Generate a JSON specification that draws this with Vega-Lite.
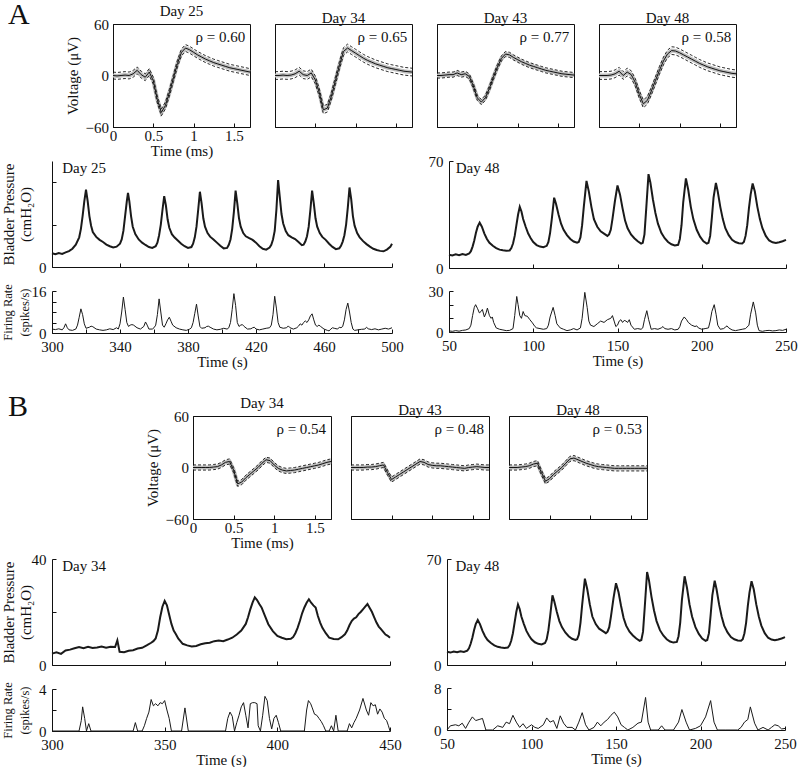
{
"$schema":"https://vega.github.io/schema/vega-lite/v6.json",
"padding":{"left":1,"top":0,"right":2,"bottom":0},
"config":{
 "font":"Liberation Serif",
 "view":{"stroke":null},
 "axis":{"grid":false,"domainColor":"#111","tickColor":"#111","labelColor":"#111","titleColor":"#111","labelFontSize":15,"titleFontSize":15,"titleFontWeight":"normal","tickSize":-4,"labelPadding":4,"labelFlush":false,"labelOverlap":false},
 "axisY":{"labelPadding":10},
 "title":{"fontSize":15,"fontWeight":"normal","color":"#111","offset":-2},
 "text":{"color":"#111"}
},
"datasets":{
"wA25":[{"t":0,"v":0,"hi":4,"lo":-4},{"t":0.05,"v":-0.5,"hi":3.5,"lo":-4.5},{"t":0.1,"v":0,"hi":4,"lo":-4},{"t":0.15,"v":0.5,"hi":4.5,"lo":-3.5},{"t":0.2,"v":0,"hi":4,"lo":-4},{"t":0.25,"v":2,"hi":6,"lo":-2},{"t":0.3,"v":6,"hi":10,"lo":2},{"t":0.35,"v":1,"hi":5,"lo":-3},{"t":0.4,"v":-2,"hi":2,"lo":-6},{"t":0.45,"v":4,"hi":8,"lo":0},{"t":0.5,"v":-6,"hi":-2,"lo":-10},{"t":0.55,"v":-28,"hi":-24,"lo":-32},{"t":0.6,"v":-43,"hi":-39,"lo":-47},{"t":0.65,"v":-35,"hi":-31,"lo":-39},{"t":0.7,"v":-20,"hi":-16,"lo":-24},{"t":0.75,"v":-3,"hi":1,"lo":-7},{"t":0.8,"v":14,"hi":18,"lo":10},{"t":0.85,"v":27,"hi":31,"lo":23},{"t":0.9,"v":32,"hi":36,"lo":28},{"t":0.95,"v":30,"hi":34,"lo":26},{"t":1,"v":27,"hi":31,"lo":23},{"t":1.05,"v":24,"hi":28,"lo":20},{"t":1.1,"v":21.5,"hi":25.5,"lo":17.5},{"t":1.15,"v":19,"hi":23,"lo":15},{"t":1.2,"v":17,"hi":21,"lo":13},{"t":1.25,"v":15,"hi":19,"lo":11},{"t":1.3,"v":13.5,"hi":17.5,"lo":9.5},{"t":1.35,"v":12,"hi":16,"lo":8},{"t":1.4,"v":10.5,"hi":14.5,"lo":6.5},{"t":1.45,"v":9,"hi":13,"lo":5},{"t":1.5,"v":8,"hi":12,"lo":4},{"t":1.55,"v":7,"hi":11,"lo":3},{"t":1.6,"v":6,"hi":10,"lo":2},{"t":1.65,"v":5,"hi":9,"lo":1},{"t":1.7,"v":4,"hi":8,"lo":0}],
"wA34":[{"t":0,"v":0,"hi":4.5,"lo":-4.5},{"t":0.05,"v":0,"hi":4.5,"lo":-4.5},{"t":0.1,"v":0.5,"hi":5,"lo":-4},{"t":0.15,"v":0,"hi":4.5,"lo":-4.5},{"t":0.2,"v":0.5,"hi":5,"lo":-4},{"t":0.25,"v":2,"hi":6.5,"lo":-2.5},{"t":0.3,"v":5,"hi":9.5,"lo":0.5},{"t":0.35,"v":1,"hi":5.5,"lo":-3.5},{"t":0.4,"v":0,"hi":4.5,"lo":-4.5},{"t":0.45,"v":3,"hi":7.5,"lo":-1.5},{"t":0.5,"v":-5,"hi":-0.5,"lo":-9.5},{"t":0.55,"v":-20,"hi":-15.5,"lo":-24.5},{"t":0.6,"v":-40,"hi":-35.5,"lo":-44.5},{"t":0.65,"v":-38,"hi":-33.5,"lo":-42.5},{"t":0.7,"v":-24,"hi":-19.5,"lo":-28.5},{"t":0.75,"v":-6,"hi":-1.5,"lo":-10.5},{"t":0.8,"v":12,"hi":16.5,"lo":7.5},{"t":0.85,"v":28,"hi":32.5,"lo":23.5},{"t":0.9,"v":32,"hi":36.5,"lo":27.5},{"t":0.95,"v":29,"hi":33.5,"lo":24.5},{"t":1,"v":26,"hi":30.5,"lo":21.5},{"t":1.05,"v":23,"hi":27.5,"lo":18.5},{"t":1.1,"v":20,"hi":24.5,"lo":15.5},{"t":1.15,"v":17.5,"hi":22,"lo":13},{"t":1.2,"v":15.5,"hi":20,"lo":11},{"t":1.25,"v":13.5,"hi":18,"lo":9},{"t":1.3,"v":12,"hi":16.5,"lo":7.5},{"t":1.35,"v":10.5,"hi":15,"lo":6},{"t":1.4,"v":9,"hi":13.5,"lo":4.5},{"t":1.45,"v":8,"hi":12.5,"lo":3.5},{"t":1.5,"v":7,"hi":11.5,"lo":2.5},{"t":1.55,"v":6,"hi":10.5,"lo":1.5},{"t":1.6,"v":5,"hi":9.5,"lo":0.5},{"t":1.65,"v":4.5,"hi":9,"lo":0},{"t":1.7,"v":4,"hi":8.5,"lo":-0.5}],
"wA43":[{"t":0,"v":0,"hi":3,"lo":-3},{"t":0.05,"v":0,"hi":3,"lo":-3},{"t":0.1,"v":0.5,"hi":3.5,"lo":-2.5},{"t":0.15,"v":1,"hi":4,"lo":-2},{"t":0.2,"v":1,"hi":4,"lo":-2},{"t":0.25,"v":3,"hi":6,"lo":0},{"t":0.3,"v":1,"hi":4,"lo":-2},{"t":0.35,"v":2,"hi":5,"lo":-1},{"t":0.4,"v":-1,"hi":2,"lo":-4},{"t":0.45,"v":-12,"hi":-9,"lo":-15},{"t":0.5,"v":-26,"hi":-23,"lo":-29},{"t":0.55,"v":-31,"hi":-28,"lo":-34},{"t":0.6,"v":-26,"hi":-23,"lo":-29},{"t":0.65,"v":-15,"hi":-12,"lo":-18},{"t":0.7,"v":-2,"hi":1,"lo":-5},{"t":0.75,"v":10,"hi":13,"lo":7},{"t":0.8,"v":20,"hi":23,"lo":17},{"t":0.85,"v":25,"hi":28,"lo":22},{"t":0.9,"v":24,"hi":27,"lo":21},{"t":0.95,"v":21,"hi":24,"lo":18},{"t":1,"v":18.5,"hi":21.5,"lo":15.5},{"t":1.05,"v":16,"hi":19,"lo":13},{"t":1.1,"v":14,"hi":17,"lo":11},{"t":1.15,"v":12,"hi":15,"lo":9},{"t":1.2,"v":10.5,"hi":13.5,"lo":7.5},{"t":1.25,"v":9,"hi":12,"lo":6},{"t":1.3,"v":7.5,"hi":10.5,"lo":4.5},{"t":1.35,"v":6,"hi":9,"lo":3},{"t":1.4,"v":5,"hi":8,"lo":2},{"t":1.45,"v":4,"hi":7,"lo":1},{"t":1.5,"v":3,"hi":6,"lo":0},{"t":1.55,"v":2,"hi":5,"lo":-1},{"t":1.6,"v":1.5,"hi":4.5,"lo":-1.5},{"t":1.65,"v":1,"hi":4,"lo":-2},{"t":1.7,"v":0.5,"hi":3.5,"lo":-2.5}],
"wA48":[{"t":0,"v":0,"hi":4.5,"lo":-4.5},{"t":0.05,"v":0,"hi":4.5,"lo":-4.5},{"t":0.1,"v":0,"hi":4.5,"lo":-4.5},{"t":0.15,"v":0.5,"hi":5,"lo":-4},{"t":0.2,"v":2,"hi":6.5,"lo":-2.5},{"t":0.25,"v":5,"hi":9.5,"lo":0.5},{"t":0.3,"v":0,"hi":4.5,"lo":-4.5},{"t":0.35,"v":4,"hi":8.5,"lo":-0.5},{"t":0.4,"v":1,"hi":5.5,"lo":-3.5},{"t":0.45,"v":-8,"hi":-3.5,"lo":-12.5},{"t":0.5,"v":-22,"hi":-17.5,"lo":-26.5},{"t":0.55,"v":-33,"hi":-28.5,"lo":-37.5},{"t":0.6,"v":-29,"hi":-24.5,"lo":-33.5},{"t":0.65,"v":-18,"hi":-13.5,"lo":-22.5},{"t":0.7,"v":-6,"hi":-1.5,"lo":-10.5},{"t":0.75,"v":6,"hi":10.5,"lo":1.5},{"t":0.8,"v":17,"hi":21.5,"lo":12.5},{"t":0.85,"v":25,"hi":29.5,"lo":20.5},{"t":0.9,"v":29,"hi":33.5,"lo":24.5},{"t":0.95,"v":28.5,"hi":33,"lo":24},{"t":1,"v":26.5,"hi":31,"lo":22},{"t":1.05,"v":24,"hi":28.5,"lo":19.5},{"t":1.1,"v":21.5,"hi":26,"lo":17},{"t":1.15,"v":19,"hi":23.5,"lo":14.5},{"t":1.2,"v":16.5,"hi":21,"lo":12},{"t":1.25,"v":14,"hi":18.5,"lo":9.5},{"t":1.3,"v":12,"hi":16.5,"lo":7.5},{"t":1.35,"v":10,"hi":14.5,"lo":5.5},{"t":1.4,"v":8.5,"hi":13,"lo":4},{"t":1.45,"v":7,"hi":11.5,"lo":2.5},{"t":1.5,"v":5.5,"hi":10,"lo":1},{"t":1.55,"v":4.5,"hi":9,"lo":0},{"t":1.6,"v":3.5,"hi":8,"lo":-1},{"t":1.65,"v":2.5,"hi":7,"lo":-2},{"t":1.7,"v":2,"hi":6.5,"lo":-2.5}],
"wB34":[{"t":0,"v":0,"hi":3,"lo":-3},{"t":0.05,"v":0,"hi":3,"lo":-3},{"t":0.1,"v":0,"hi":3,"lo":-3},{"t":0.15,"v":0,"hi":3,"lo":-3},{"t":0.2,"v":0,"hi":3,"lo":-3},{"t":0.25,"v":0.5,"hi":3.5,"lo":-2.5},{"t":0.3,"v":1,"hi":4,"lo":-2},{"t":0.35,"v":3,"hi":6,"lo":0},{"t":0.4,"v":6,"hi":9,"lo":3},{"t":0.45,"v":7,"hi":10,"lo":4},{"t":0.5,"v":-3,"hi":0,"lo":-6},{"t":0.55,"v":-19,"hi":-16,"lo":-22},{"t":0.6,"v":-17,"hi":-14,"lo":-20},{"t":0.65,"v":-12,"hi":-9,"lo":-15},{"t":0.7,"v":-8,"hi":-5,"lo":-11},{"t":0.75,"v":-4,"hi":-1,"lo":-7},{"t":0.8,"v":0,"hi":3,"lo":-3},{"t":0.85,"v":5,"hi":8,"lo":2},{"t":0.9,"v":9,"hi":12,"lo":6},{"t":0.95,"v":8,"hi":11,"lo":5},{"t":1,"v":3,"hi":6,"lo":0},{"t":1.05,"v":-1,"hi":2,"lo":-4},{"t":1.1,"v":-3,"hi":0,"lo":-6},{"t":1.15,"v":-4,"hi":-1,"lo":-7},{"t":1.2,"v":-3.5,"hi":-0.5,"lo":-6.5},{"t":1.25,"v":-3,"hi":0,"lo":-6},{"t":1.3,"v":-2,"hi":1,"lo":-5},{"t":1.35,"v":-1,"hi":2,"lo":-4},{"t":1.4,"v":0,"hi":3,"lo":-3},{"t":1.45,"v":1,"hi":4,"lo":-2},{"t":1.5,"v":2,"hi":5,"lo":-1},{"t":1.55,"v":3,"hi":6,"lo":0},{"t":1.6,"v":4.5,"hi":7.5,"lo":1.5},{"t":1.65,"v":6,"hi":9,"lo":3},{"t":1.7,"v":7,"hi":10,"lo":4}],
"wB43":[{"t":0,"v":0,"hi":3,"lo":-3},{"t":0.05,"v":0,"hi":3,"lo":-3},{"t":0.1,"v":0,"hi":3,"lo":-3},{"t":0.15,"v":0,"hi":3,"lo":-3},{"t":0.2,"v":0.5,"hi":3.5,"lo":-2.5},{"t":0.25,"v":0.5,"hi":3.5,"lo":-2.5},{"t":0.3,"v":1,"hi":4,"lo":-2},{"t":0.35,"v":2,"hi":5,"lo":-1},{"t":0.4,"v":3,"hi":6,"lo":0},{"t":0.45,"v":-6,"hi":-3,"lo":-9},{"t":0.5,"v":-14,"hi":-11,"lo":-17},{"t":0.55,"v":-11,"hi":-8,"lo":-14},{"t":0.6,"v":-8,"hi":-5,"lo":-11},{"t":0.65,"v":-5,"hi":-2,"lo":-8},{"t":0.7,"v":-2,"hi":1,"lo":-5},{"t":0.75,"v":1,"hi":4,"lo":-2},{"t":0.8,"v":4,"hi":7,"lo":1},{"t":0.85,"v":7,"hi":10,"lo":4},{"t":0.9,"v":6,"hi":9,"lo":3},{"t":0.95,"v":3.5,"hi":6.5,"lo":0.5},{"t":1,"v":2.5,"hi":5.5,"lo":-0.5},{"t":1.05,"v":2,"hi":5,"lo":-1},{"t":1.1,"v":2,"hi":5,"lo":-1},{"t":1.15,"v":1.5,"hi":4.5,"lo":-1.5},{"t":1.2,"v":1,"hi":4,"lo":-2},{"t":1.25,"v":0.5,"hi":3.5,"lo":-2.5},{"t":1.3,"v":0,"hi":3,"lo":-3},{"t":1.35,"v":-0.5,"hi":2.5,"lo":-3.5},{"t":1.4,"v":-1,"hi":2,"lo":-4},{"t":1.45,"v":0,"hi":3,"lo":-3},{"t":1.5,"v":0.5,"hi":3.5,"lo":-2.5},{"t":1.55,"v":1,"hi":4,"lo":-2},{"t":1.6,"v":0.5,"hi":3.5,"lo":-2.5},{"t":1.65,"v":0,"hi":3,"lo":-3},{"t":1.7,"v":0,"hi":3,"lo":-3}],
"wB48":[{"t":0,"v":0,"hi":3,"lo":-3},{"t":0.05,"v":0,"hi":3,"lo":-3},{"t":0.1,"v":0,"hi":3,"lo":-3},{"t":0.15,"v":0.5,"hi":3.5,"lo":-2.5},{"t":0.2,"v":1,"hi":4,"lo":-2},{"t":0.25,"v":2,"hi":5,"lo":-1},{"t":0.3,"v":4,"hi":7,"lo":1},{"t":0.35,"v":5,"hi":8,"lo":2},{"t":0.4,"v":-6,"hi":-3,"lo":-9},{"t":0.45,"v":-16,"hi":-13,"lo":-19},{"t":0.5,"v":-13,"hi":-10,"lo":-16},{"t":0.55,"v":-8,"hi":-5,"lo":-11},{"t":0.6,"v":-4,"hi":-1,"lo":-7},{"t":0.65,"v":0,"hi":3,"lo":-3},{"t":0.7,"v":5,"hi":8,"lo":2},{"t":0.75,"v":10,"hi":13,"lo":7},{"t":0.8,"v":11,"hi":14,"lo":8},{"t":0.85,"v":9,"hi":12,"lo":6},{"t":0.9,"v":7,"hi":10,"lo":4},{"t":0.95,"v":5,"hi":8,"lo":2},{"t":1,"v":3.5,"hi":6.5,"lo":0.5},{"t":1.05,"v":2,"hi":5,"lo":-1},{"t":1.1,"v":1,"hi":4,"lo":-2},{"t":1.15,"v":0.5,"hi":3.5,"lo":-2.5},{"t":1.2,"v":0,"hi":3,"lo":-3},{"t":1.25,"v":-0.5,"hi":2.5,"lo":-3.5},{"t":1.3,"v":-1,"hi":2,"lo":-4},{"t":1.35,"v":-1,"hi":2,"lo":-4},{"t":1.4,"v":-1,"hi":2,"lo":-4},{"t":1.45,"v":-1,"hi":2,"lo":-4},{"t":1.5,"v":-1,"hi":2,"lo":-4},{"t":1.55,"v":-1,"hi":2,"lo":-4},{"t":1.6,"v":-1,"hi":2,"lo":-4},{"t":1.65,"v":-1,"hi":2,"lo":-4},{"t":1.7,"v":-1,"hi":2,"lo":-4}],
"p25":[{"t":300,"p":6.5},{"t":302,"p":6},{"t":304,"p":6.6},{"t":306,"p":6.2},{"t":308,"p":6.9},{"t":310,"p":7.5},{"t":312,"p":8.6},{"t":314,"p":10.5},{"t":316,"p":14},{"t":317,"p":18},{"t":318,"p":24},{"t":319,"p":31},{"t":320,"p":36.5},{"t":321,"p":31},{"t":322,"p":24},{"t":323,"p":19.5},{"t":324,"p":16.5},{"t":326,"p":14.2},{"t":328,"p":12.8},{"t":330,"p":11.8},{"t":332,"p":10.6},{"t":334,"p":9.8},{"t":336,"p":9.2},{"t":338,"p":9.6},{"t":340,"p":11},{"t":341,"p":13},{"t":342,"p":17},{"t":343,"p":24},{"t":344,"p":31},{"t":344.7,"p":35},{"t":345.5,"p":31},{"t":346.5,"p":24},{"t":347.5,"p":19},{"t":349,"p":15.5},{"t":351,"p":13},{"t":353,"p":11.5},{"t":355,"p":10.4},{"t":357,"p":9.4},{"t":359,"p":9},{"t":361,"p":9.8},{"t":362,"p":11.5},{"t":363,"p":15},{"t":364,"p":20},{"t":365,"p":27},{"t":366,"p":33.4},{"t":367,"p":29},{"t":368,"p":22.5},{"t":369,"p":18.5},{"t":370.5,"p":15.5},{"t":372,"p":14},{"t":374,"p":12.5},{"t":376,"p":11},{"t":378,"p":9.8},{"t":380,"p":9},{"t":382,"p":9.4},{"t":383,"p":11},{"t":384,"p":14},{"t":385,"p":19},{"t":386,"p":27},{"t":387,"p":35.5},{"t":388,"p":30},{"t":389,"p":23},{"t":390,"p":19},{"t":391.5,"p":16},{"t":393,"p":14.3},{"t":395,"p":13},{"t":397,"p":11.5},{"t":399,"p":10},{"t":401,"p":8.8},{"t":403,"p":9},{"t":404,"p":10.5},{"t":405,"p":13},{"t":406,"p":18},{"t":407,"p":26},{"t":408,"p":36},{"t":409,"p":30},{"t":410,"p":23},{"t":411,"p":19},{"t":412.5,"p":16},{"t":414,"p":14.5},{"t":416,"p":13.6},{"t":418,"p":12.8},{"t":420,"p":11.5},{"t":422,"p":9.8},{"t":424,"p":8.6},{"t":426,"p":8.2},{"t":428,"p":9.2},{"t":429,"p":10.5},{"t":430,"p":13},{"t":431,"p":17},{"t":432,"p":27},{"t":433,"p":41},{"t":434,"p":33},{"t":435,"p":25},{"t":436,"p":20.5},{"t":437.5,"p":17},{"t":439,"p":15},{"t":441,"p":14},{"t":443,"p":13.2},{"t":445,"p":11.8},{"t":447,"p":10.3},{"t":448,"p":10.5},{"t":449,"p":12},{"t":450,"p":14.5},{"t":451,"p":19},{"t":452,"p":27},{"t":453,"p":36},{"t":454,"p":30},{"t":455,"p":23},{"t":456,"p":19},{"t":457.5,"p":16},{"t":459,"p":14.2},{"t":461,"p":12.8},{"t":463,"p":11},{"t":465,"p":9.5},{"t":467,"p":8.4},{"t":469,"p":8.8},{"t":470,"p":10},{"t":471,"p":12},{"t":472,"p":15},{"t":473,"p":20},{"t":474,"p":28},{"t":475,"p":37.5},{"t":476,"p":32},{"t":477,"p":24},{"t":478,"p":19.5},{"t":479.5,"p":16},{"t":481,"p":14},{"t":483,"p":12.2},{"t":485,"p":10.8},{"t":487,"p":9.6},{"t":489,"p":8.6},{"t":491,"p":8},{"t":493,"p":7.6},{"t":495,"p":7.4},{"t":497,"p":8.2},{"t":499,"p":9.5},{"t":500,"p":11}],
"f25":[{"t":300,"r":1.5},{"t":302,"r":1.3},{"t":304,"r":1.6},{"t":306,"r":1.2},{"t":307,"r":2},{"t":308,"r":3.5},{"t":309,"r":2},{"t":310,"r":1.2},{"t":312,"r":1},{"t":314,"r":1.5},{"t":315,"r":3},{"t":316,"r":6},{"t":317,"r":9.2},{"t":318,"r":7},{"t":319,"r":3.5},{"t":320,"r":1.8},{"t":322,"r":2.2},{"t":323,"r":2.6},{"t":324,"r":2.4},{"t":326,"r":1.5},{"t":328,"r":1.2},{"t":330,"r":1},{"t":332,"r":1.2},{"t":334,"r":1.6},{"t":336,"r":1.3},{"t":338,"r":2},{"t":339,"r":1.5},{"t":340,"r":3.5},{"t":341,"r":8},{"t":342,"r":13.7},{"t":343,"r":9},{"t":344,"r":4},{"t":345,"r":2.5},{"t":346,"r":3},{"t":347,"r":3.2},{"t":348,"r":3},{"t":350,"r":2},{"t":352,"r":1.5},{"t":354,"r":2.5},{"t":355,"r":4.2},{"t":356,"r":3},{"t":357,"r":1.5},{"t":359,"r":1.5},{"t":360,"r":2},{"t":361,"r":3},{"t":362,"r":7},{"t":363,"r":13},{"t":364,"r":8},{"t":365,"r":3},{"t":366,"r":2.2},{"t":367,"r":3.5},{"t":368,"r":5},{"t":369,"r":6},{"t":370,"r":4.5},{"t":371,"r":3},{"t":373,"r":2},{"t":375,"r":1.5},{"t":377,"r":1.2},{"t":379,"r":1},{"t":381,"r":1.5},{"t":382,"r":2},{"t":383,"r":4},{"t":384,"r":7.5},{"t":385,"r":11},{"t":386,"r":6.5},{"t":387,"r":2.5},{"t":388,"r":1.8},{"t":390,"r":2},{"t":391,"r":2.5},{"t":392,"r":2.6},{"t":393,"r":2.2},{"t":395,"r":1.5},{"t":397,"r":1.2},{"t":399,"r":1.4},{"t":401,"r":1.8},{"t":403,"r":1.5},{"t":404,"r":2},{"t":405,"r":4},{"t":406,"r":9},{"t":407,"r":15},{"t":408,"r":10.5},{"t":409,"r":4},{"t":410,"r":2.5},{"t":411,"r":3},{"t":412,"r":3.2},{"t":413,"r":2.5},{"t":415,"r":1.5},{"t":417,"r":1.6},{"t":418,"r":2},{"t":419,"r":2.2},{"t":420,"r":1.5},{"t":422,"r":1.2},{"t":424,"r":1.5},{"t":426,"r":1.8},{"t":428,"r":2},{"t":429,"r":3},{"t":430,"r":7},{"t":431,"r":14},{"t":432,"r":9.5},{"t":433,"r":4},{"t":434,"r":2.2},{"t":436,"r":1.8},{"t":438,"r":2},{"t":439,"r":2.7},{"t":440,"r":2},{"t":442,"r":1.5},{"t":444,"r":2},{"t":445,"r":2.6},{"t":446,"r":3.5},{"t":447,"r":3},{"t":448,"r":4},{"t":449,"r":4.6},{"t":450,"r":4},{"t":451,"r":5},{"t":452,"r":6.5},{"t":453,"r":7.3},{"t":454,"r":5},{"t":455,"r":3},{"t":456,"r":2.5},{"t":457,"r":3},{"t":458,"r":2.5},{"t":460,"r":1.5},{"t":462,"r":1},{"t":463,"r":0.8},{"t":464,"r":1.5},{"t":465,"r":2},{"t":466,"r":1.8},{"t":468,"r":1.5},{"t":469,"r":2.2},{"t":470,"r":2},{"t":471,"r":2.5},{"t":472,"r":5},{"t":473,"r":9},{"t":474,"r":11.4},{"t":475,"r":8},{"t":476,"r":4},{"t":477,"r":1.5},{"t":478,"r":1},{"t":480,"r":1.2},{"t":482,"r":1.4},{"t":484,"r":1.5},{"t":485,"r":2.2},{"t":486,"r":1.6},{"t":488,"r":1.3},{"t":490,"r":1.6},{"t":492,"r":1.2},{"t":494,"r":1.5},{"t":496,"r":1.8},{"t":498,"r":1.5},{"t":500,"r":2}],
"p48":[{"t":50,"p":8.7},{"t":52,"p":8.2},{"t":54,"p":8.9},{"t":56,"p":8.4},{"t":58,"p":9.1},{"t":60,"p":8.6},{"t":62,"p":9.5},{"t":63,"p":11},{"t":64,"p":14},{"t":65,"p":18},{"t":66,"p":23},{"t":67,"p":27},{"t":68.2,"p":29.7},{"t":69.5,"p":27},{"t":71,"p":22.5},{"t":72.5,"p":19},{"t":74,"p":16.5},{"t":76,"p":14.5},{"t":78,"p":13},{"t":80,"p":12},{"t":82,"p":11.6},{"t":84,"p":11.3},{"t":86,"p":11.5},{"t":87,"p":13},{"t":88,"p":16},{"t":89,"p":21},{"t":90,"p":28},{"t":91,"p":35},{"t":92,"p":40},{"t":93,"p":37},{"t":94,"p":32},{"t":95.5,"p":27},{"t":97,"p":22.5},{"t":98.5,"p":19.5},{"t":100,"p":17},{"t":102,"p":15},{"t":104,"p":14},{"t":106,"p":13.6},{"t":108,"p":14.5},{"t":109,"p":17},{"t":110,"p":23},{"t":111,"p":32},{"t":112.4,"p":46},{"t":113.5,"p":42},{"t":115,"p":35},{"t":116.5,"p":29},{"t":118,"p":25},{"t":120,"p":21.5},{"t":122,"p":19},{"t":124,"p":17.3},{"t":126,"p":16.5},{"t":127,"p":17},{"t":128,"p":20},{"t":129,"p":28},{"t":130,"p":40},{"t":131.6,"p":57},{"t":133,"p":50},{"t":134.5,"p":40},{"t":136,"p":32},{"t":138,"p":27},{"t":140,"p":24},{"t":142,"p":22.5},{"t":144,"p":21},{"t":145,"p":22},{"t":146,"p":25},{"t":147,"p":32},{"t":148.5,"p":44},{"t":150,"p":54},{"t":151.5,"p":48},{"t":153,"p":39},{"t":154.5,"p":31},{"t":156,"p":26},{"t":158,"p":22},{"t":160,"p":19.5},{"t":162,"p":17.5},{"t":164,"p":16},{"t":165,"p":16.5},{"t":166,"p":22},{"t":167,"p":38},{"t":168.4,"p":61.4},{"t":169.5,"p":56},{"t":171,"p":45},{"t":172.5,"p":36},{"t":174,"p":29},{"t":176,"p":23},{"t":178,"p":19.5},{"t":180,"p":17},{"t":182,"p":15.5},{"t":184,"p":14.8},{"t":186,"p":15.2},{"t":187,"p":19},{"t":188,"p":28},{"t":189,"p":43},{"t":190.6,"p":58.6},{"t":192,"p":51},{"t":193.5,"p":40},{"t":195,"p":32},{"t":197,"p":25},{"t":199,"p":20.5},{"t":201,"p":17.5},{"t":203,"p":16},{"t":204,"p":16.5},{"t":205,"p":21},{"t":206,"p":33},{"t":207,"p":46},{"t":208.4,"p":55.7},{"t":209.5,"p":50},{"t":211,"p":40},{"t":212.5,"p":32},{"t":214,"p":26},{"t":216,"p":21.5},{"t":218,"p":18.5},{"t":220,"p":17},{"t":222,"p":16.2},{"t":224,"p":16},{"t":225,"p":17},{"t":226,"p":21},{"t":227,"p":28},{"t":228,"p":39},{"t":229,"p":48},{"t":230.2,"p":55.3},{"t":231.5,"p":50},{"t":233,"p":40},{"t":234.5,"p":32},{"t":236,"p":26},{"t":238,"p":21},{"t":240,"p":18},{"t":242,"p":16.8},{"t":244,"p":16.3},{"t":246,"p":16.8},{"t":248,"p":17.5},{"t":250,"p":18.4}],
"f48a":[{"t":50,"r":0.8},{"t":52,"r":0.5},{"t":54,"r":1},{"t":56,"r":0.6},{"t":58,"r":1.2},{"t":60,"r":1.5},{"t":62,"r":2.5},{"t":63,"r":5},{"t":64,"r":12},{"t":65,"r":18},{"t":65.8,"r":20},{"t":67,"r":17},{"t":68,"r":14},{"t":69,"r":15},{"t":69.8,"r":16.5},{"t":71,"r":11},{"t":72,"r":14},{"t":72.8,"r":17.5},{"t":74,"r":12},{"t":75,"r":10},{"t":75.7,"r":11},{"t":76.5,"r":7},{"t":78,"r":3},{"t":80,"r":2},{"t":82,"r":1.5},{"t":84,"r":1},{"t":86,"r":1.2},{"t":88,"r":2.5},{"t":89,"r":12},{"t":90.2,"r":26},{"t":91,"r":20},{"t":92,"r":12},{"t":93,"r":10},{"t":94,"r":15},{"t":95,"r":12},{"t":96.5,"r":11.5},{"t":98,"r":9},{"t":99.5,"r":6.7},{"t":101,"r":4},{"t":102,"r":3},{"t":104,"r":2.5},{"t":106,"r":2},{"t":108,"r":2.5},{"t":109,"r":5},{"t":110,"r":11},{"t":111.8,"r":18},{"t":113,"r":12},{"t":114,"r":6},{"t":116,"r":3},{"t":118,"r":2},{"t":120,"r":1},{"t":122,"r":1.5},{"t":124,"r":2.5},{"t":126,"r":1.5},{"t":128,"r":3},{"t":129,"r":10},{"t":130.6,"r":29},{"t":132,"r":18},{"t":133,"r":8},{"t":134,"r":5},{"t":136,"r":4},{"t":138,"r":6},{"t":140,"r":8},{"t":142,"r":7},{"t":144,"r":9},{"t":146,"r":10},{"t":147,"r":12},{"t":148,"r":8},{"t":149,"r":4},{"t":150,"r":5},{"t":151,"r":8},{"t":152,"r":9},{"t":153,"r":7},{"t":154,"r":8.5},{"t":155,"r":8},{"t":156,"r":7},{"t":157,"r":9},{"t":158,"r":5},{"t":160,"r":2},{"t":162,"r":2.5},{"t":164,"r":2},{"t":165,"r":3},{"t":166,"r":9},{"t":167.4,"r":15.6},{"t":168.5,"r":9},{"t":170,"r":2},{"t":172,"r":2.5},{"t":174,"r":2},{"t":176,"r":3},{"t":177,"r":4},{"t":178,"r":2.5},{"t":180,"r":2},{"t":182,"r":2.5},{"t":184,"r":1.5},{"t":186,"r":2},{"t":187,"r":4},{"t":188,"r":8},{"t":189.6,"r":11},{"t":191,"r":9},{"t":192,"r":7},{"t":194,"r":5},{"t":196,"r":4},{"t":197,"r":4.5},{"t":198,"r":3},{"t":200,"r":2},{"t":202,"r":2.5},{"t":204,"r":3},{"t":205,"r":8},{"t":206,"r":15},{"t":207.4,"r":20},{"t":208.5,"r":13},{"t":209.5,"r":5},{"t":211,"r":2},{"t":213,"r":2.5},{"t":214,"r":3.5},{"t":215,"r":4.5},{"t":216,"r":3},{"t":218,"r":1.5},{"t":220,"r":1},{"t":222,"r":1.5},{"t":224,"r":2},{"t":226,"r":2.5},{"t":228,"r":5},{"t":229,"r":13},{"t":230.6,"r":22},{"t":232,"r":14},{"t":233,"r":5},{"t":234,"r":1},{"t":236,"r":0.5},{"t":238,"r":1},{"t":240,"r":1.2},{"t":242,"r":0.8},{"t":244,"r":1},{"t":246,"r":1.5},{"t":248,"r":1.2},{"t":250,"r":2}],
"p34":[{"t":300,"p":4.3},{"t":302,"p":4.8},{"t":304,"p":4.2},{"t":306,"p":5.5},{"t":308,"p":5.8},{"t":310,"p":6.3},{"t":312,"p":6.8},{"t":314,"p":6.3},{"t":316,"p":6.9},{"t":318,"p":6.4},{"t":320,"p":6.6},{"t":322,"p":7},{"t":324,"p":6.5},{"t":326,"p":6.9},{"t":328,"p":6.8},{"t":329,"p":9.3},{"t":330,"p":5},{"t":332,"p":4.8},{"t":334,"p":5.4},{"t":336,"p":5.6},{"t":338,"p":6.2},{"t":340,"p":6.5},{"t":342,"p":7.4},{"t":344,"p":8.4},{"t":345,"p":9},{"t":346,"p":10},{"t":347,"p":13},{"t":348,"p":18},{"t":349,"p":22},{"t":350,"p":24.2},{"t":351,"p":22.5},{"t":352,"p":19},{"t":353,"p":15.5},{"t":354,"p":13},{"t":355,"p":11.6},{"t":356,"p":10},{"t":358,"p":8},{"t":360,"p":7.4},{"t":362,"p":7},{"t":364,"p":7.2},{"t":366,"p":7.8},{"t":368,"p":8.2},{"t":370,"p":8.4},{"t":372,"p":9},{"t":374,"p":9.2},{"t":376,"p":9},{"t":378,"p":9.6},{"t":380,"p":10.3},{"t":382,"p":11.5},{"t":384,"p":13},{"t":386,"p":15.5},{"t":387,"p":18},{"t":388,"p":21},{"t":389,"p":23.5},{"t":390,"p":25.5},{"t":391,"p":24.5},{"t":392,"p":23},{"t":393,"p":21.7},{"t":394.5,"p":18.5},{"t":396,"p":15.4},{"t":398,"p":12.8},{"t":400,"p":11},{"t":402,"p":10.3},{"t":404,"p":9.7},{"t":406,"p":9.9},{"t":407,"p":10.5},{"t":408,"p":12},{"t":409,"p":14},{"t":410,"p":16.6},{"t":411,"p":19.5},{"t":412,"p":21.7},{"t":413,"p":23.5},{"t":414,"p":24.8},{"t":415,"p":23.5},{"t":416,"p":22.5},{"t":417,"p":21.7},{"t":418,"p":18.5},{"t":419,"p":16},{"t":420,"p":14},{"t":421.5,"p":12},{"t":423,"p":10.3},{"t":425,"p":9.8},{"t":427,"p":9.7},{"t":428.5,"p":10.5},{"t":430,"p":11.6},{"t":431,"p":13},{"t":432,"p":15},{"t":433,"p":16.6},{"t":434,"p":17.5},{"t":435,"p":18},{"t":436,"p":19.2},{"t":437,"p":20},{"t":438,"p":21},{"t":439,"p":22},{"t":440,"p":23},{"t":441,"p":21.5},{"t":442,"p":20},{"t":443,"p":18},{"t":444,"p":16},{"t":445,"p":14.5},{"t":446,"p":13.5},{"t":447,"p":12.5},{"t":448,"p":11.5},{"t":449,"p":11},{"t":450,"p":10.3}],
"f34":[{"t":300,"r":0},{"t":312,"r":0},{"t":313,"r":1},{"t":313.6,"r":2.3},{"t":314.5,"r":1.2},{"t":315.3,"r":0},{"t":316.3,"r":0.7},{"t":317.3,"r":0},{"t":336,"r":0},{"t":337,"r":0.8},{"t":338,"r":0},{"t":340,"r":0},{"t":341,"r":0.5},{"t":342,"r":1.2},{"t":343,"r":1.8},{"t":344,"r":3},{"t":345,"r":2.4},{"t":346,"r":2.6},{"t":347,"r":2.4},{"t":348,"r":2.7},{"t":349,"r":2.6},{"t":350,"r":2.9},{"t":351,"r":2},{"t":352,"r":1.2},{"t":353,"r":0},{"t":357.5,"r":0},{"t":359,"r":2.2},{"t":360.5,"r":0},{"t":377,"r":0},{"t":378,"r":1.2},{"t":379,"r":1.8},{"t":380,"r":1.4},{"t":381,"r":0},{"t":382,"r":0.8},{"t":383,"r":1.5},{"t":384,"r":2.3},{"t":385,"r":2.7},{"t":386,"r":1.5},{"t":387,"r":0.3},{"t":388,"r":2.6},{"t":389,"r":2.7},{"t":390,"r":2.7},{"t":391,"r":2.6},{"t":391.5,"r":0.5},{"t":392.5,"r":0},{"t":393.5,"r":1.5},{"t":394.5,"r":3.3},{"t":395.5,"r":2.9},{"t":396.5,"r":1.2},{"t":397.5,"r":0.2},{"t":398.5,"r":1.2},{"t":399.5,"r":1.5},{"t":400.5,"r":0.8},{"t":401.5,"r":0},{"t":412,"r":0},{"t":413,"r":2},{"t":413.8,"r":2.9},{"t":414.8,"r":2.6},{"t":415.5,"r":2.2},{"t":416.5,"r":1.6},{"t":417.5,"r":1.5},{"t":418.5,"r":1.2},{"t":419.5,"r":0.9},{"t":420.5,"r":0.5},{"t":421.5,"r":0},{"t":423,"r":0},{"t":424,"r":0.5},{"t":425,"r":0},{"t":426,"r":1.5},{"t":427,"r":0},{"t":431,"r":0},{"t":432,"r":0.7},{"t":433,"r":0.3},{"t":434,"r":0.8},{"t":435,"r":1.2},{"t":436.5,"r":2},{"t":438,"r":3.1},{"t":439.5,"r":2},{"t":440.5,"r":1.5},{"t":441.5,"r":2.7},{"t":442.5,"r":2.4},{"t":443.5,"r":2.5},{"t":444.5,"r":1.6},{"t":445.5,"r":2.1},{"t":446.5,"r":1.8},{"t":447.5,"r":1.2},{"t":448.5,"r":1},{"t":449.3,"r":0.5},{"t":450,"r":0}],
"f48b":[{"t":50,"r":0},{"t":52,"r":0.8},{"t":55,"r":1},{"t":57,"r":0.8},{"t":59,"r":1.3},{"t":61,"r":0.3},{"t":63,"r":1.5},{"t":65,"r":2.5},{"t":67,"r":1.8},{"t":69,"r":2},{"t":71,"r":2.2},{"t":73,"r":0},{"t":77,"r":0},{"t":80,"r":0.8},{"t":83,"r":0.5},{"t":85,"r":1.5},{"t":87,"r":1.2},{"t":89,"r":2.8},{"t":91,"r":1.5},{"t":93,"r":0.5},{"t":95,"r":1.2},{"t":97,"r":0.3},{"t":100,"r":1},{"t":102,"r":0.5},{"t":104,"r":0.3},{"t":107,"r":1},{"t":109,"r":2.3},{"t":111,"r":1.5},{"t":113,"r":1.8},{"t":115,"r":0.3},{"t":117,"r":2.7},{"t":119,"r":1.3},{"t":121,"r":0.5},{"t":124,"r":0.5},{"t":126,"r":0},{"t":128,"r":1.5},{"t":130,"r":3.3},{"t":132,"r":1},{"t":134,"r":0},{"t":137,"r":0.5},{"t":139,"r":1.5},{"t":141,"r":0.8},{"t":143,"r":1.5},{"t":145,"r":2},{"t":147,"r":2.8},{"t":149,"r":3.4},{"t":151,"r":2.5},{"t":153,"r":1},{"t":155,"r":0.5},{"t":157,"r":0},{"t":160,"r":0.5},{"t":163,"r":1.3},{"t":165,"r":1.5},{"t":167.5,"r":6.2},{"t":169,"r":1.5},{"t":170.5,"r":0},{"t":175,"r":0},{"t":177,"r":0.8},{"t":179,"r":0},{"t":184,"r":0},{"t":187,"r":1.5},{"t":189,"r":3.9},{"t":191.5,"r":1.5},{"t":193.5,"r":0},{"t":197,"r":0.3},{"t":200,"r":0.8},{"t":203,"r":2.5},{"t":206,"r":5.6},{"t":208,"r":1.5},{"t":210,"r":0},{"t":215,"r":0},{"t":222,"r":0},{"t":224,"r":0.5},{"t":226,"r":1.5},{"t":228,"r":2},{"t":229.5,"r":4.4},{"t":232,"r":1.3},{"t":234,"r":0},{"t":237,"r":0.5},{"t":240,"r":0},{"t":242,"r":0.5},{"t":244,"r":1},{"t":246,"r":0.8},{"t":248,"r":0.2},{"t":250,"r":0.3}]
},
"columns":1,"align":"none","spacing":23,
"concat":[
{"columns":1,"align":"none","spacing":-5,"concat":[
 {"spacing":7,"hconcat":[
  {"width":6,"height":103,"data":{"values":[{"s":"A"}]},"mark":{"type":"text","align":"left","baseline":"alphabetic","fontSize":30},"encoding":{"x":{"datum":-7.33,"type":"quantitative","scale":{"domain":[0,1]},"axis":null},"y":{"datum":1,"type":"quantitative","scale":{"domain":[0,1]},"axis":null},"text":{"field":"s"}}},
  {"width":137,"height":103,"view":{"stroke":"#111"},"title":"Day 25","layer":[
   {"data":{"name":"wA25"},"encoding":{"x":{"field":"t","type":"quantitative","scale":{"domain":[0,1.7],"nice":false,"zero":false},"axis":{"values":[0,0.5,1,1.5],"format":"~g","title":"Time (ms)","labelPadding":5,"titlePadding":0}}},
    "layer":[
     {"mark":{"type":"line","color":"#bdbdbd","strokeWidth":4},"encoding":{"y":{"field":"v","type":"quantitative","scale":{"domain":[-60,60],"nice":false},"axis":{"values":[-60,0,60],"title":"Voltage (μV)","labelPadding":8.5,"titlePadding":4.5}}}},
     {"mark":{"type":"line","color":"#111","strokeWidth":1},"encoding":{"y":{"field":"v","type":"quantitative","title":"Voltage (μV)"}}},
     {"mark":{"type":"line","color":"#111","strokeWidth":0.9,"strokeDash":[3,2]},"encoding":{"y":{"field":"hi","type":"quantitative","title":"Voltage (μV)"}}},
     {"mark":{"type":"line","color":"#111","strokeWidth":0.9,"strokeDash":[3,2]},"encoding":{"y":{"field":"lo","type":"quantitative","title":"Voltage (μV)"}}}
    ]},
   {"data":{"values":[{"s":"ρ = 0.60"}]},"mark":{"type":"text","align":"right","baseline":"middle","fontSize":15},"encoding":{"x":{"datum":1.64},"y":{"datum":45},"text":{"field":"s"}}}
  ]},
  {"width":137,"height":103,"view":{"stroke":"#111"},"title":"Day 34","layer":[
   {"data":{"name":"wA34"},"encoding":{"x":{"field":"t","type":"quantitative","scale":{"domain":[0,1.7],"nice":false,"zero":false},"axis":{"values":[0.5,1,1.5],"labels":false,"title":null}}},
    "layer":[
     {"mark":{"type":"line","color":"#bdbdbd","strokeWidth":4},"encoding":{"y":{"field":"v","type":"quantitative","scale":{"domain":[-60,60],"nice":false},"axis":{"values":[0],"labels":false,"title":null}}}},
     {"mark":{"type":"line","color":"#111","strokeWidth":1},"encoding":{"y":{"field":"v","type":"quantitative","title":null}}},
     {"mark":{"type":"line","color":"#111","strokeWidth":0.9,"strokeDash":[3,2]},"encoding":{"y":{"field":"hi","type":"quantitative","title":null}}},
     {"mark":{"type":"line","color":"#111","strokeWidth":0.9,"strokeDash":[3,2]},"encoding":{"y":{"field":"lo","type":"quantitative","title":null}}}
    ]},
   {"data":{"values":[{"s":"ρ = 0.65"}]},"mark":{"type":"text","align":"right","baseline":"middle","fontSize":15},"encoding":{"x":{"datum":1.64},"y":{"datum":45},"text":{"field":"s"}}}
  ]},
  {"width":137,"height":103,"view":{"stroke":"#111"},"title":"Day 43","layer":[
   {"data":{"name":"wA43"},"encoding":{"x":{"field":"t","type":"quantitative","scale":{"domain":[0,1.7],"nice":false,"zero":false},"axis":{"values":[0.5,1,1.5],"labels":false,"title":null}}},
    "layer":[
     {"mark":{"type":"line","color":"#bdbdbd","strokeWidth":4},"encoding":{"y":{"field":"v","type":"quantitative","scale":{"domain":[-60,60],"nice":false},"axis":{"values":[0],"labels":false,"title":null}}}},
     {"mark":{"type":"line","color":"#111","strokeWidth":1},"encoding":{"y":{"field":"v","type":"quantitative","title":null}}},
     {"mark":{"type":"line","color":"#111","strokeWidth":0.9,"strokeDash":[3,2]},"encoding":{"y":{"field":"hi","type":"quantitative","title":null}}},
     {"mark":{"type":"line","color":"#111","strokeWidth":0.9,"strokeDash":[3,2]},"encoding":{"y":{"field":"lo","type":"quantitative","title":null}}}
    ]},
   {"data":{"values":[{"s":"ρ = 0.77"}]},"mark":{"type":"text","align":"right","baseline":"middle","fontSize":15},"encoding":{"x":{"datum":1.64},"y":{"datum":45},"text":{"field":"s"}}}
  ]},
  {"width":137,"height":103,"view":{"stroke":"#111"},"title":"Day 48","layer":[
   {"data":{"name":"wA48"},"encoding":{"x":{"field":"t","type":"quantitative","scale":{"domain":[0,1.7],"nice":false,"zero":false},"axis":{"values":[0.5,1,1.5],"labels":false,"title":null}}},
    "layer":[
     {"mark":{"type":"line","color":"#bdbdbd","strokeWidth":4},"encoding":{"y":{"field":"v","type":"quantitative","scale":{"domain":[-60,60],"nice":false},"axis":{"values":[0],"labels":false,"title":null}}}},
     {"mark":{"type":"line","color":"#111","strokeWidth":1},"encoding":{"y":{"field":"v","type":"quantitative","title":null}}},
     {"mark":{"type":"line","color":"#111","strokeWidth":0.9,"strokeDash":[3,2]},"encoding":{"y":{"field":"hi","type":"quantitative","title":null}}},
     {"mark":{"type":"line","color":"#111","strokeWidth":0.9,"strokeDash":[3,2]},"encoding":{"y":{"field":"lo","type":"quantitative","title":null}}}
    ]},
   {"data":{"values":[{"s":"ρ = 0.58"}]},"mark":{"type":"text","align":"right","baseline":"middle","fontSize":15},"encoding":{"x":{"datum":1.64},"y":{"datum":45},"text":{"field":"s"}}}
  ]}
 ]},
 {"spacing":24,"hconcat":[
  {"spacing":8,"vconcat":[
   {"width":340,"height":106,"layer":[
    {"data":{"name":"p25"},"mark":{"type":"line","color":"#1a1a1a","strokeWidth":2},"encoding":{
     "x":{"field":"t","type":"quantitative","scale":{"domain":[300,500],"nice":false,"zero":false},"axis":{"values":[300,320,340,360,380,400,420,440,460,480,500],"labels":false,"title":null}},
     "y":{"field":"p","type":"quantitative","scale":{"domain":[0,50],"nice":false},"axis":{"values":[0,10,20,30,40,50],"labelExpr":"datum.value == 0 || datum.value == 50 ? datum.label : ''","title":["Bladder Pressure","(cmH₂O)"],"minExtent":10,"maxExtent":10,"titlePadding":9,"titleLineHeight":17}}}},
    {"data":{"values":[{"s":"Day 25"}]},"mark":{"type":"text","align":"left","baseline":"top","fontSize":15},"encoding":{"x":{"datum":306},"y":{"datum":50},"text":{"field":"s"}}}
   ]},
   {"width":340,"height":42,"data":{"name":"f25"},"mark":{"type":"line","color":"#1a1a1a","strokeWidth":1},"encoding":{
    "x":{"field":"t","type":"quantitative","scale":{"domain":[300,500],"nice":false,"zero":false},"axis":{"values":[300,320,340,360,380,400,420,440,460,480,500],"labelExpr":"(datum.value - 300) % 40 == 0 ? datum.label : ''","title":"Time (s)","labelPadding":10,"titlePadding":0}},
    "y":{"field":"r","type":"quantitative","scale":{"domain":[0,16],"nice":false},"axis":{"values":[0,4,8,12,16],"labelExpr":"datum.value == 0 || datum.value == 16 ? datum.label : ''","title":["Firing Rate","(spikes/s)"],"titleFontSize":12.5,"minExtent":10,"maxExtent":10,"titlePadding":11,"titleLineHeight":17}}}}
  ]},
  {"spacing":8,"vconcat":[
   {"width":337,"height":107,"layer":[
    {"data":{"name":"p48"},"mark":{"type":"line","color":"#1a1a1a","strokeWidth":2},"encoding":{
     "x":{"field":"t","type":"quantitative","scale":{"domain":[50,250],"nice":false,"zero":false},"axis":{"values":[50,100,150,200,250],"labels":false,"title":null}},
     "y":{"field":"p","type":"quantitative","scale":{"domain":[0,70],"nice":false},"axis":{"values":[0,10,20,30,40,50,60,70],"labelExpr":"datum.value == 0 || datum.value == 70 ? datum.label : ''","title":null}}}},
    {"data":{"values":[{"s":"Day 48"}]},"mark":{"type":"text","align":"left","baseline":"top","fontSize":15},"encoding":{"x":{"datum":54},"y":{"datum":70},"text":{"field":"s"}}}
   ]},
   {"width":337,"height":41,"data":{"name":"f48a"},"mark":{"type":"line","color":"#1a1a1a","strokeWidth":1},"encoding":{
    "x":{"field":"t","type":"quantitative","scale":{"domain":[50,250],"nice":false,"zero":false},"axis":{"values":[50,100,150,200,250],"title":"Time (s)","labelPadding":10,"titlePadding":0}},
    "y":{"field":"r","type":"quantitative","scale":{"domain":[0,30],"nice":false},"axis":{"values":[0,10,20,30],"labelExpr":"datum.value == 0 || datum.value == 30 ? datum.label : ''","title":null}}}}
  ]}
 ]}
]},
{"columns":1,"align":"none","spacing":1,"concat":[
 {"spacing":2,"hconcat":[
  {"width":91,"height":103,"data":{"values":[{"s":"B"}]},"mark":{"type":"text","align":"left","baseline":"alphabetic","fontSize":30},"encoding":{"x":{"datum":-0.4835,"type":"quantitative","scale":{"domain":[0,1]},"axis":null},"y":{"datum":1,"type":"quantitative","scale":{"domain":[0,1]},"axis":null},"text":{"field":"s"}}},
  {"width":138,"height":103,"view":{"stroke":"#111"},"title":"Day 34","layer":[
   {"data":{"name":"wB34"},"encoding":{"x":{"field":"t","type":"quantitative","scale":{"domain":[0,1.7],"nice":false,"zero":false},"axis":{"values":[0,0.5,1,1.5],"format":"~g","title":"Time (ms)","labelPadding":5,"titlePadding":0}}},
    "layer":[
     {"mark":{"type":"line","color":"#bdbdbd","strokeWidth":4},"encoding":{"y":{"field":"v","type":"quantitative","scale":{"domain":[-60,60],"nice":false},"axis":{"values":[-60,0,60],"title":"Voltage (μV)","labelPadding":8.5,"titlePadding":4.5}}}},
     {"mark":{"type":"line","color":"#111","strokeWidth":1},"encoding":{"y":{"field":"v","type":"quantitative","title":"Voltage (μV)"}}},
     {"mark":{"type":"line","color":"#111","strokeWidth":0.9,"strokeDash":[3,2]},"encoding":{"y":{"field":"hi","type":"quantitative","title":"Voltage (μV)"}}},
     {"mark":{"type":"line","color":"#111","strokeWidth":0.9,"strokeDash":[3,2]},"encoding":{"y":{"field":"lo","type":"quantitative","title":"Voltage (μV)"}}}
    ]},
   {"data":{"values":[{"s":"ρ = 0.54"}]},"mark":{"type":"text","align":"right","baseline":"middle","fontSize":15},"encoding":{"x":{"datum":1.64},"y":{"datum":45},"text":{"field":"s"}}}
  ]},
  {"width":138,"height":103,"view":{"stroke":"#111"},"title":"Day 43","layer":[
   {"data":{"name":"wB43"},"encoding":{"x":{"field":"t","type":"quantitative","scale":{"domain":[0,1.7],"nice":false,"zero":false},"axis":{"values":[0.5,1,1.5],"labels":false,"title":null}}},
    "layer":[
     {"mark":{"type":"line","color":"#bdbdbd","strokeWidth":4},"encoding":{"y":{"field":"v","type":"quantitative","scale":{"domain":[-60,60],"nice":false},"axis":{"values":[0],"labels":false,"title":null}}}},
     {"mark":{"type":"line","color":"#111","strokeWidth":1},"encoding":{"y":{"field":"v","type":"quantitative","title":null}}},
     {"mark":{"type":"line","color":"#111","strokeWidth":0.9,"strokeDash":[3,2]},"encoding":{"y":{"field":"hi","type":"quantitative","title":null}}},
     {"mark":{"type":"line","color":"#111","strokeWidth":0.9,"strokeDash":[3,2]},"encoding":{"y":{"field":"lo","type":"quantitative","title":null}}}
    ]},
   {"data":{"values":[{"s":"ρ = 0.48"}]},"mark":{"type":"text","align":"right","baseline":"middle","fontSize":15},"encoding":{"x":{"datum":1.64},"y":{"datum":45},"text":{"field":"s"}}}
  ]},
  {"width":138,"height":103,"view":{"stroke":"#111"},"title":"Day 48","layer":[
   {"data":{"name":"wB48"},"encoding":{"x":{"field":"t","type":"quantitative","scale":{"domain":[0,1.7],"nice":false,"zero":false},"axis":{"values":[0.5,1,1.5],"labels":false,"title":null}}},
    "layer":[
     {"mark":{"type":"line","color":"#bdbdbd","strokeWidth":4},"encoding":{"y":{"field":"v","type":"quantitative","scale":{"domain":[-60,60],"nice":false},"axis":{"values":[0],"labels":false,"title":null}}}},
     {"mark":{"type":"line","color":"#111","strokeWidth":1},"encoding":{"y":{"field":"v","type":"quantitative","title":null}}},
     {"mark":{"type":"line","color":"#111","strokeWidth":0.9,"strokeDash":[3,2]},"encoding":{"y":{"field":"hi","type":"quantitative","title":null}}},
     {"mark":{"type":"line","color":"#111","strokeWidth":0.9,"strokeDash":[3,2]},"encoding":{"y":{"field":"lo","type":"quantitative","title":null}}}
    ]},
   {"data":{"values":[{"s":"ρ = 0.53"}]},"mark":{"type":"text","align":"right","baseline":"middle","fontSize":15},"encoding":{"x":{"datum":1.64},"y":{"datum":45},"text":{"field":"s"}}}
  ]}
 ]},
 {"spacing":24,"hconcat":[
  {"spacing":8,"vconcat":[
   {"width":338,"height":106,"layer":[
    {"data":{"name":"p34"},"mark":{"type":"line","color":"#1a1a1a","strokeWidth":2},"encoding":{
     "x":{"field":"t","type":"quantitative","scale":{"domain":[300,450],"nice":false,"zero":false},"axis":{"values":[300,350,400,450],"labels":false,"title":null}},
     "y":{"field":"p","type":"quantitative","scale":{"domain":[0,40],"nice":false},"axis":{"values":[0,10,20,30,40],"labelExpr":"datum.value == 0 || datum.value == 40 ? datum.label : ''","title":["Bladder Pressure","(cmH₂O)"],"minExtent":10,"maxExtent":10,"titlePadding":9,"titleLineHeight":17}}}},
    {"data":{"values":[{"s":"Day 34"}]},"mark":{"type":"text","align":"left","baseline":"top","fontSize":15},"encoding":{"x":{"datum":304.5},"y":{"datum":40},"text":{"field":"s"}}}
   ]},
   {"width":338,"height":42,"data":{"name":"f34"},"mark":{"type":"line","color":"#1a1a1a","strokeWidth":1},"encoding":{
    "x":{"field":"t","type":"quantitative","scale":{"domain":[300,450],"nice":false,"zero":false},"axis":{"values":[300,350,400,450],"title":"Time (s)","labelPadding":10,"titlePadding":0}},
    "y":{"field":"r","type":"quantitative","scale":{"domain":[0,4],"nice":false},"axis":{"values":[0,2,4],"labelExpr":"datum.value == 0 || datum.value == 4 ? datum.label : ''","title":["Firing Rate","(spikes/s)"],"titleFontSize":12.5,"minExtent":10,"maxExtent":10,"titlePadding":11,"titleLineHeight":17}}}}
  ]},
  {"spacing":8,"vconcat":[
   {"width":338,"height":106,"layer":[
    {"data":{"name":"p48"},"mark":{"type":"line","color":"#1a1a1a","strokeWidth":2},"encoding":{
     "x":{"field":"t","type":"quantitative","scale":{"domain":[50,250],"nice":false,"zero":false},"axis":{"values":[50,100,150,200,250],"labels":false,"title":null}},
     "y":{"field":"p","type":"quantitative","scale":{"domain":[0,70],"nice":false},"axis":{"values":[0,10,20,30,40,50,60,70],"labelExpr":"datum.value == 0 || datum.value == 70 ? datum.label : ''","title":null}}}},
    {"data":{"values":[{"s":"Day 48"}]},"mark":{"type":"text","align":"left","baseline":"top","fontSize":15},"encoding":{"x":{"datum":55},"y":{"datum":70},"text":{"field":"s"}}}
   ]},
   {"width":338,"height":42,"data":{"name":"f48b"},"mark":{"type":"line","color":"#1a1a1a","strokeWidth":1},"encoding":{
    "x":{"field":"t","type":"quantitative","scale":{"domain":[50,250],"nice":false,"zero":false},"axis":{"values":[50,100,150,200,250],"title":"Time (s)","labelPadding":10,"titlePadding":0}},
    "y":{"field":"r","type":"quantitative","scale":{"domain":[0,8],"nice":false},"axis":{"values":[0,4,8],"labelExpr":"datum.value == 0 || datum.value == 8 ? datum.label : ''","title":null}}}}
  ]}
 ]}
]}
]
}
